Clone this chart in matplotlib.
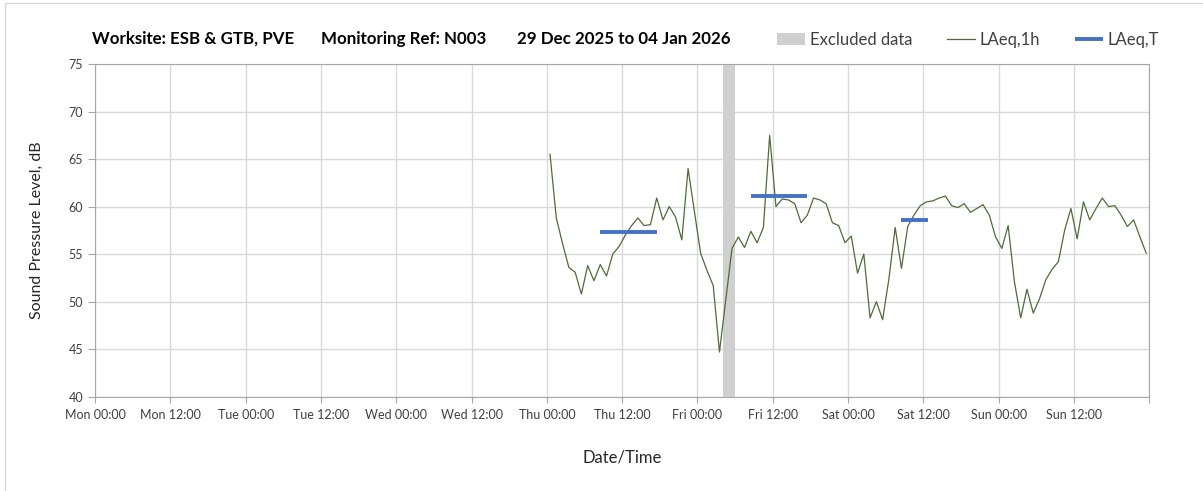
import numpy as np
import pandas as pd
import matplotlib
matplotlib.use("Agg")
import matplotlib.pyplot as plt
from matplotlib.patches import Rectangle

plt.rcParams["font.family"] = ["Lato", "DejaVu Sans"]

# hourly LAeq,1h values from Thu 01 Jan 2026 00:30 (NaN = excluded)
laeq_1h = [65.5, 58.8, 56.1, 53.6, 53.1, 50.8, 53.8, 52.2, 53.9, 52.7,
           55.0, 55.8, 57.0, 58.0, 58.8, 58.0, 58.1, 60.9, 58.6, 60.0,
           58.9, 56.5, 64.0, 59.5, 55.1, 53.3, 51.7, 44.7, np.nan, 55.6,
           56.8, 55.7, 57.4, 56.2, 57.8, 67.5, 60.0, 60.8, 60.7, 60.3,
           58.3, 59.1, 60.9, 60.7, 60.3, 58.3, 58.0, 56.2, 56.9, 53.0,
           55.0, 48.3, 50.0, 48.1, 52.4, 57.8, 53.5, 57.9, 59.1, 60.1,
           60.5, 60.6, 60.9, 61.1, 60.1, 59.9, 60.3, 59.4, 59.8, 60.2,
           59.1, 56.8, 55.6, 58.0, 52.1, 48.3, 51.3, 48.8, 50.3, 52.3,
           53.4, 54.2, 57.5, 59.8, 56.6, 60.5, 58.6, 59.8, 60.9, 60.0,
           60.1, 59.1, 57.9, 58.6, 56.8, 55.1]

# LAeq,T periods
laeq_t_start = ["2026-01-01 08:30", "2026-01-02 08:30", "2026-01-03 08:30"]
laeq_t_end = ["2026-01-01 17:30", "2026-01-02 17:30", "2026-01-03 12:45"]
laeq_t = [57.3, 61.1, 58.6]

excluded_start = "2026-01-02 04:00"
excluded_end = "2026-01-02 06:00"

title_parts = ["Worksite: ESB & GTB, PVE", "Monitoring Ref: N003", "29 Dec 2025 to 04 Jan 2026"]

times = pd.date_range("2026-01-01 00:30", periods=len(laeq_1h), freq="h")
s = pd.Series(laeq_1h, index=times).dropna()

fig = plt.figure(figsize=(12.03, 4.91), dpi=100)
ax = fig.add_axes([0.079, 0.192, 0.8764, 0.6777])

# light frame around the chart
fig.patches.append(Rectangle((5 / 1203, -0.1), 1.2, 1.1 - 3 / 491, transform=fig.transFigure,
                             fill=False, edgecolor="#d9d9d9", linewidth=1))

ax.axvspan(pd.Timestamp(excluded_start), pd.Timestamp(excluded_end), color="#d0d0d0",
           linewidth=0, label="Excluded data", zorder=1)
ax.plot(s.index, s.values, color="#4f6b3a", linewidth=0.9, label="LAeq,1h", zorder=3)
for i in range(len(laeq_t)):
    ax.plot([pd.Timestamp(laeq_t_start[i]), pd.Timestamp(laeq_t_end[i])], [laeq_t[i], laeq_t[i]],
            color="#4472c4", linewidth=2.8, solid_capstyle="butt", zorder=4,
            label="LAeq,T" if i == 0 else None)

ticks = pd.date_range("2025-12-29 00:00", "2026-01-05 00:00", freq="12h")
ax.set_xticks(ticks)
ax.set_xticklabels([t.strftime("%a %H:%M") for t in ticks[:-1]] + [""])
ax.set_xlim(ticks[0], ticks[-1])
ax.set_ylim(40, 75)
ax.set_yticks(range(40, 80, 5))

ax.grid(True, color="#d9d9d9", linewidth=1)
ax.set_axisbelow(True)
for sp in ax.spines.values():
    sp.set_color("#a6a6a6")
ax.tick_params(axis="both", colors="#a6a6a6", labelcolor="#404040", labelsize=9, length=4)
ax.tick_params(axis="x", pad=5)
ax.tick_params(axis="y", length=5)

ax.set_ylabel("Sound Pressure Level, dB", fontsize=11.5, color="#262626", labelpad=18)
ax.set_xlabel("Date/Time", fontsize=12, color="#262626", labelpad=20)

title_x = [92, 321, 517]
for i in range(len(title_parts)):
    fig.text(title_x[i] / 1203, 1 - 39 / 491, title_parts[i],
             fontsize=12.2, fontweight="bold", color="#000000", va="center")

ax.legend(loc="center left", bbox_to_anchor=(762 / 1203, 1 - 40 / 491), bbox_transform=fig.transFigure,
          ncol=3, frameon=False, fontsize=12, handlelength=1.7, columnspacing=2.1,
          handletextpad=0.25, labelcolor="#404040")

fig.savefig("out.png", dpi=100)
